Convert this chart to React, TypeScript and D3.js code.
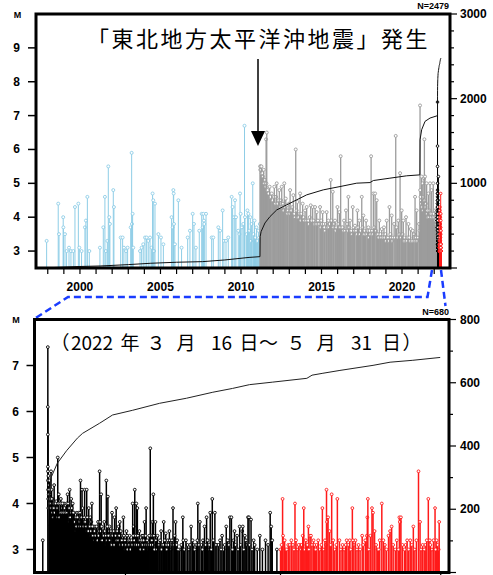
import React from "react";
import * as d3 from "d3";

// ---------- data ----------
// blue: before 2011-03-11 [year, M]
const blueEvents: [number, number][] = [
[1997.93,3.3],[1998.65,4.4],[1998.70,3.5],[1998.96,4.0],[1998.97,3.7],[1999.07,3.5],[1999.17,3.0],[1999.32,3.1],[1999.44,3.0],[1999.59,3.0],[1999.69,4.3],[1999.90,4.4],[1999.96,3.1],[2000.10,3.0],[2000.31,3.7],[2000.37,3.9],[2000.46,4.6],[2000.58,3.0],[2001.24,3.1],[2001.45,3.7],[2001.55,4.6],[2001.61,3.0],[2001.70,3.3],[2001.76,5.5],[2001.82,4.0],[2001.86,3.8],[2002.07,4.8],[2002.11,4.3],[2002.53,3.4],[2002.65,3.4],[2002.73,3.1],[2002.86,3.0],[2002.96,3.1],[2003.15,3.7],[2003.21,5.9],[2003.23,3.8],[2003.27,4.1],[2003.31,3.1],[2003.73,3.0],[2003.83,3.1],[2003.93,3.2],[2004.04,3.4],[2004.14,3.4],[2004.24,3.3],[2004.35,3.4],[2004.45,3.1],[2004.51,4.7],[2004.55,4.5],[2004.60,3.0],[2004.66,4.4],[2004.87,3.5],[2005.03,3.4],[2005.18,3.2],[2005.69,4.0],[2005.76,3.7],[2005.80,4.8],[2005.82,4.7],[2005.84,3.8],[2005.90,3.2],[2006.11,4.5],[2006.31,3.1],[2006.69,3.4],[2006.83,3.6],[2007.00,4.1],[2007.08,3.8],[2007.20,3.1],[2007.41,3.6],[2007.56,4.1],[2007.62,3.7],[2007.66,4.1],[2007.70,3.9],[2007.72,3.8],[2007.83,4.1],[2008.18,3.4],[2008.28,3.4],[2008.59,3.7],[2008.70,3.6],[2008.86,4.2],[2008.94,3.3],[2009.07,3.3],[2009.21,3.4],[2009.42,4.6],[2009.48,4.3],[2009.57,4.0],[2009.63,4.5],[2009.69,4.0],[2009.83,3.6],[2009.90,3.5],[2009.94,4.7],[2009.98,4.1],[2010.06,3.7],[2010.14,3.8],[2010.22,6.7],[2010.25,4.0],[2010.35,3.5],[2010.40,4.2],[2010.46,4.1],[2010.52,3.6],[2010.58,4.0],[2010.62,3.3],[2010.66,3.8],[2010.73,5.0],[2010.78,3.5],[2010.84,3.9],[2010.90,3.4],[2010.96,3.7],[2011.02,3.3],[2011.08,3.6],[2011.13,3.4],[2011.17,3.8]
];

// gray: 2011-03-11 .. 2022-03-15 [year, M]
const grayEvents: [number, number][] = [
[2011.19,5.5],[2011.20,5.4],[2011.22,5.5],[2011.24,5.4],[2011.27,5.5],[2011.29,5.3],[2011.33,5.3],[2011.37,5.2],[2011.41,5.4],[2011.45,5.0],[2011.49,5.1],[2011.53,4.9],[2011.56,6.3],[2011.58,5.0],[2011.60,6.5],[2011.63,4.8],[2011.66,4.8],[2011.72,4.7],[2011.78,4.9],[2011.84,4.6],[2011.91,4.7],[2011.97,4.5],[2012.03,4.6],[2012.07,4.9],[2012.13,4.4],[2012.18,4.6],[2012.22,5.0],[2012.28,4.4],[2012.33,4.5],[2012.38,4.8],[2012.45,4.3],[2012.49,4.5],[2012.53,4.9],[2012.57,4.3],[2012.61,4.4],[2012.65,4.2],[2012.69,5.0],[2012.74,4.3],[2012.78,4.55],[2012.84,4.35],[2012.88,4.1],[2012.92,4.2],[2012.98,4.4],[2013.02,4.1],[2013.05,4.8],[2013.09,4.2],[2013.13,4.2],[2013.19,4.3],[2013.25,4.65],[2013.31,4.1],[2013.36,4.0],[2013.40,6.0],[2013.46,4.2],[2013.50,4.45],[2013.54,4.0],[2013.58,4.0],[2013.63,4.1],[2013.67,4.7],[2013.71,3.9],[2013.75,4.1],[2013.83,4.4],[2013.89,4.0],[2013.93,3.9],[2013.98,4.2],[2014.04,3.9],[2014.08,4.3],[2014.14,3.9],[2014.18,3.9],[2014.22,3.8],[2014.27,4.0],[2014.33,4.35],[2014.39,3.9],[2014.45,4.3],[2014.52,3.9],[2014.56,3.8],[2014.60,4.3],[2014.66,3.8],[2014.70,4.15],[2014.74,3.8],[2014.78,3.9],[2014.85,3.8],[2014.91,4.3],[2014.95,3.7],[2014.99,3.9],[2015.03,3.8],[2015.07,4.15],[2015.14,3.8],[2015.18,3.7],[2015.22,3.6],[2015.28,3.8],[2015.32,4.15],[2015.39,3.7],[2015.43,3.9],[2015.47,3.7],[2015.51,3.8],[2015.57,5.1],[2015.63,3.9],[2015.70,4.75],[2015.74,3.7],[2015.78,3.8],[2015.84,3.9],[2015.88,3.6],[2015.92,3.7],[2015.99,4.3],[2016.05,3.8],[2016.11,4.15],[2016.15,3.7],[2016.19,5.8],[2016.25,3.7],[2016.32,3.7],[2016.36,3.6],[2016.40,3.9],[2016.46,3.6],[2016.52,4.2],[2016.59,3.8],[2016.63,3.6],[2016.67,4.6],[2016.73,3.7],[2016.77,3.9],[2016.81,3.6],[2016.85,3.6],[2016.90,3.5],[2016.94,4.3],[2017.00,3.7],[2017.04,3.6],[2017.08,3.75],[2017.15,3.6],[2017.19,3.5],[2017.23,4.2],[2017.29,3.7],[2017.35,3.9],[2017.39,3.5],[2017.43,3.6],[2017.50,4.6],[2017.56,3.7],[2017.60,4.05],[2017.64,3.5],[2017.68,3.6],[2017.73,3.5],[2017.77,3.9],[2017.83,3.5],[2017.87,3.6],[2017.91,3.7],[2017.95,3.4],[2017.99,3.6],[2018.03,3.5],[2018.08,5.8],[2018.14,3.6],[2018.18,3.5],[2018.22,4.7],[2018.28,3.7],[2018.33,4.7],[2018.39,3.6],[2018.43,4.5],[2018.47,3.5],[2018.51,3.5],[2018.55,3.4],[2018.59,3.9],[2018.66,3.5],[2018.70,3.4],[2018.74,3.65],[2018.80,3.4],[2018.84,3.5],[2018.88,3.7],[2018.92,3.4],[2018.97,3.5],[2019.01,3.3],[2019.05,3.9],[2019.09,3.4],[2019.13,3.4],[2019.18,3.3],[2019.22,4.3],[2019.28,3.5],[2019.32,3.4],[2019.36,4.05],[2019.40,3.3],[2019.44,3.4],[2019.51,3.8],[2019.56,3.4],[2019.61,6.4],[2019.67,3.7],[2019.73,3.4],[2019.77,3.9],[2019.84,3.5],[2019.88,5.3],[2019.94,3.4],[2019.98,4.2],[2020.04,3.5],[2020.08,3.9],[2020.13,3.3],[2020.17,3.4],[2020.21,3.3],[2020.25,4.0],[2020.31,3.3],[2020.36,3.4],[2020.40,3.8],[2020.46,3.4],[2020.50,3.3],[2020.54,3.65],[2020.60,3.3],[2020.66,3.6],[2020.70,3.3],[2020.75,3.5],[2020.81,4.6],[2020.83,3.3],[2020.87,3.4],[2020.91,4.2],[2020.95,3.3],[2020.99,3.4],[2021.06,3.8],[2021.09,3.6],[2021.12,7.3],[2021.13,4.8],[2021.15,4.6],[2021.18,4.5],[2021.20,4.4],[2021.22,5.2],[2021.25,4.3],[2021.29,5.0],[2021.31,4.2],[2021.33,4.6],[2021.37,5.15],[2021.39,6.3],[2021.41,4.5],[2021.43,5.2],[2021.46,4.3],[2021.49,4.4],[2021.53,5.0],[2021.56,4.1],[2021.58,4.2],[2021.61,4.0],[2021.64,4.7],[2021.68,4.0],[2021.71,4.2],[2021.74,5.0],[2021.78,4.1],[2021.81,4.0],[2021.84,4.8],[2021.88,4.1],[2021.91,4.0],[2021.94,5.0],[2021.97,4.1],[2022.01,4.0],[2022.05,4.2],[2022.08,3.9],[2022.11,3.8],[2022.14,4.0],[2022.17,3.9]
];

// recent: days after 2022-03-16 00:00 [day, M]
const recentEvents: [number, number][] = [
[0.0,3.2],[0.98,7.4],[0.98,6.1],[0.99,5.5],[0.99,4.8],[1.0,4.7],[1.0,4.5],[1.02,4.3],[1.05,4.1],[1.08,3.9],[1.1,4.6],[1.2,4.4],[1.3,4.5],[1.4,4.2],[1.5,4.0],[1.6,4.7],[1.7,4.3],[1.8,3.9],[1.9,4.1],[2.0,3.8],[2.1,4.0],[2.2,4.4],[2.4,3.9],[2.6,4.05],[2.7,3.7],[2.9,5.0],[3.1,4.2],[3.3,3.8],[3.5,4.1],[3.7,3.9],[3.9,3.6],[4.1,4.0],[4.3,3.7],[4.5,3.9],[4.8,4.2],[5.0,3.6],[5.2,4.3],[5.4,3.8],[5.5,4.1],[5.7,3.5],[5.8,4.0],[6.0,3.7],[6.1,3.8],[6.3,3.4],[6.6,3.8],[6.8,3.6],[6.9,3.8],[7.0,3.5],[7.3,4.5],[7.6,4.3],[7.8,3.6],[8.1,4.3],[8.3,3.4],[8.5,4.3],[8.7,3.5],[8.9,3.9],[9.0,3.3],[9.2,3.7],[9.4,3.6],[9.5,4.0],[9.8,3.5],[9.9,3.2],[10.1,3.5],[10.3,3.4],[10.5,3.3],[10.7,3.6],[10.9,3.4],[11.0,4.7],[11.3,4.2],[11.6,3.3],[11.7,3.4],[11.9,3.6],[12.1,3.1],[12.3,4.5],[12.6,4.15],[12.8,3.4],[12.9,3.5],[13.1,3.3],[13.4,3.8],[13.6,3.2],[13.9,3.7],[14.0,3.4],[14.2,3.9],[14.5,3.1],[14.7,3.5],[14.9,3.6],[15.2,3.3],[15.4,3.2],[15.6,3.7],[15.8,3.0],[16.0,3.2],[16.2,3.4],[16.5,3.1],[16.8,3.3],[17.1,3.1],[17.4,4.0],[17.6,3.5],[17.8,4.3],[18.1,4.0],[18.3,3.9],[18.5,3.2],[18.7,3.4],[19.0,3.1],[19.2,3.3],[19.4,3.3],[19.7,3.6],[20.0,3.9],[20.3,3.0],[20.8,5.2],[21.0,3.3],[21.2,3.6],[21.4,4.2],[21.8,3.6],[22.0,3.2],[22.3,3.1],[22.6,3.0],[22.9,3.4],[23.1,3.1],[23.4,3.6],[23.8,3.35],[24.2,3.2],[24.5,3.4],[24.8,3.0],[25.2,3.9],[25.7,3.6],[26.0,3.2],[26.5,3.0],[27.1,3.7],[27.2,3.2],[28.0,3.1],[28.7,3.5],[29.2,3.1],[29.7,3.1],[30.0,4.0],[30.4,3.6],[30.7,3.1],[31.0,3.2],[31.3,3.5],[31.7,3.7],[32.0,3.0],[32.4,3.8],[32.8,4.1],[33.3,3.8],[33.7,3.1],[34.0,3.1],[34.7,3.3],[35.0,3.0],[35.5,3.5],[36.2,3.7],[36.5,3.7],[36.9,3.2],[37.1,3.4],[37.6,3.3],[37.8,3.0],[38.1,3.5],[38.6,3.4],[38.7,3.5],[39.1,3.3],[39.4,3.1],[39.7,3.7],[39.9,3.7],[40.3,3.65],[40.8,3.2],[41.5,3.0],[42.0,3.3],[43.1,3.2],[44.0,3.8],[44.2,3.5],[44.4,3.2],[45.3,3.0],
[1.15,4.2],[1.25,4.3],[1.35,4.0],[1.45,4.1],[1.55,3.9],[1.65,4.0],[1.75,4.1],[1.85,3.8],[1.95,3.9],[2.05,3.7],[2.15,3.9],[2.3,3.8],[2.5,4.0],[2.8,3.9],[3.0,4.0],[3.2,3.7],[3.4,4.0],[3.6,3.8],[3.8,4.0],[4.0,3.8],[4.2,3.9],[4.4,3.8],[4.6,4.0],[4.7,3.8],[4.9,4.0],[5.1,3.9],[5.3,3.7],[5.6,3.9],[5.9,3.8],[6.2,3.6],[6.4,3.7],[6.5,3.5],[6.7,3.7],[7.1,3.6],[7.2,3.8],[7.4,3.5],[7.5,3.7],[7.7,3.9],[7.9,3.5],[8.0,3.7],[8.2,3.6],[8.4,3.5],[8.6,3.7],[8.8,3.4],[9.1,3.5],[9.3,3.4],[9.6,3.5],[9.7,3.3],[10.0,3.4],[10.2,3.3],[10.4,3.5],[10.6,3.2],[10.8,3.3],[11.1,3.6],[11.2,3.4],[11.4,3.5],[11.5,3.2],[11.8,3.3],[12.0,3.4],[12.2,3.3],[12.4,3.2],[12.5,3.5],[12.7,3.3],[13.0,3.2],[13.2,3.4],[13.3,3.1],[13.5,3.3],[13.7,3.4],[13.8,3.1],[14.1,3.3],[14.3,3.2],[14.4,3.4],[14.6,3.2],[14.8,3.3],[15.0,3.1],[15.1,3.4],[15.3,3.2],[15.5,3.1],[15.7,3.3],[15.9,3.2],[16.1,3.1],[16.3,3.3],[16.4,3.0],[16.6,3.2],[16.7,3.1],[16.9,3.2],[17.0,3.0],[17.2,3.2],[17.3,3.1],[17.5,3.3],[17.7,3.2],[17.9,3.1],[18.0,3.3],[18.2,3.1],[18.4,3.3],[18.6,3.1],[18.8,3.2],[18.9,3.0],[19.1,3.2],[19.3,3.1],[19.5,3.2],[19.6,3.0],[19.8,3.1],[19.9,3.3],[20.1,3.1],[20.2,3.2],[20.5,3.1],[20.6,3.3],[20.9,3.1],[21.1,3.2],[21.3,3.1],[21.5,3.3],[21.6,3.0],[21.9,3.2],[22.1,3.0],[22.2,3.3],[22.5,3.1],[22.7,3.2],[23.0,3.0],[23.3,3.1],[23.6,3.2],[23.9,3.1],[24.0,3.0],[24.3,3.1],[24.6,3.2],[24.9,3.1],[25.0,3.2],[25.4,3.1],[25.5,3.3],[25.9,3.1],[26.2,3.0],[26.8,3.1],[27.4,3.0],[27.7,3.2],[28.3,3.0],[28.5,3.1],[29.0,3.2],[29.4,3.0],[29.9,3.2],[30.2,3.1],[30.9,3.0],[31.5,3.1],[31.9,3.2],[32.2,3.1],[32.6,3.0],[33.0,3.2],[33.5,3.1],[34.3,3.2],[34.5,3.0],[35.2,3.1],[35.8,3.2],[36.0,3.1],[36.7,3.0],[37.3,3.1],[38.3,3.1],[38.9,3.0],[39.3,3.2],[40.0,3.1],[40.5,3.0],[41.0,3.1],[42.5,3.0],[43.6,3.1],
[46.0,3.0],[46.4,4.1],[46.5,3.3],[47.0,3.0],[47.5,3.1],[48.1,3.2],[48.4,3.1],[48.8,4.0],[49.2,3.0],[49.8,3.1],[50.0,3.0],[50.1,3.1],[50.3,3.3],[50.5,3.9],[51.0,3.1],[51.4,3.5],[51.7,3.3],[51.9,3.3],[52.1,3.1],[52.4,3.2],[52.6,3.1],[53.0,3.1],[53.6,3.0],[54.1,3.9],[54.8,3.1],[54.9,4.3],[55.0,3.6],[55.2,3.7],[55.5,3.4],[55.9,4.2],[56.5,3.0],[57.0,4.1],[57.4,3.2],[58.3,3.0],[58.8,3.2],[59.1,3.1],[59.4,3.2],[59.9,3.9],[60.2,3.1],[60.5,3.2],[60.8,3.0],[61.1,3.1],[61.8,3.3],[62.7,3.3],[62.8,3.7],[62.9,4.1],[63.4,3.3],[63.7,3.9],[63.9,3.8],[64.2,3.4],[64.8,3.0],[65.2,3.2],[65.6,4.0],[66.2,3.1],[66.9,3.3],[67.2,3.4],[67.5,3.5],[68.2,3.0],[69.0,3.7],[69.1,3.6],[69.3,3.7],[70.2,3.1],[71.1,3.2],[71.7,3.5],[72.0,3.0],[72.7,4.7],[73.0,3.6],[73.2,3.0],[74.0,3.1],[74.6,4.1],[74.9,3.2],[75.3,3.0],[75.9,3.9],[76.2,3.2],[76.6,3.0],[76.7,3.6],
[46.2,3.1],[46.8,3.2],[47.2,3.0],[47.8,3.1],[48.6,3.0],[49.0,3.2],[49.5,3.1],[50.7,3.0],[50.9,3.2],[51.2,3.1],[51.5,3.0],[52.8,3.0],[53.3,3.2],[53.9,3.1],[54.4,3.0],[54.6,3.2],[55.7,3.1],[56.2,3.2],[56.8,3.1],[57.7,3.0],[58.0,3.1],[58.6,3.1],[59.6,3.0],[60.0,3.2],[61.4,3.0],[62.0,3.1],[62.4,3.2],[63.1,3.0],[64.5,3.1],[65.0,3.0],[65.9,3.2],[66.5,3.0],[67.8,3.1],[68.5,3.2],[68.8,3.0],[69.6,3.1],[70.0,3.0],[70.5,3.2],[70.8,3.0],[71.4,3.1],[72.3,3.2],[73.5,3.1],[73.8,3.0],[74.3,3.2],[75.0,3.1],[75.6,3.2],[76.0,3.0],[76.4,3.1]
];

// cumulative counts
const topCumulative: [number, number][] = [
[1997.27,0],[1998.0,3],[1999.0,10],[2000.0,18],[2001.3,24],[2003.0,40],[2004.4,56],[2006.0,68],[2007.6,75],[2009.0,95],[2010.5,125],[2011.18,134],[2011.19,370],[2011.25,430],[2011.49,532],[2011.8,607],[2012.22,686],[2012.63,726],[2013.25,785],[2014.08,864],[2015.11,923],[2016.15,962],[2017.19,1002],[2018.01,1009],[2018.22,1033],[2019.25,1061],[2020.29,1089],[2021.11,1100],[2021.12,1515],[2021.22,1633],[2021.43,1732],[2021.74,1771],[2022.2,1799]
];
const recentCumulative: [number, number][] = [
[0.97,1],[1.0,150],[1.2,230],[1.6,300],[2.8,345],[4.6,385],[6.7,425],[7.7,440],[11.0,472],[13.5,498],[17.4,513],[22.6,535],[27.8,551],[32.9,570],[36.7,582],[40.0,594],[44.5,602],[51.1,614],[52.1,624],[54.2,630],[57.5,639],[63.9,655],[67.2,665],[71.6,671],[76.9,680]
];

const yearLabels = [2000, 2005, 2010, 2015, 2020];
const topMTicks = [3, 4, 5, 6, 7, 8, 9];
const topCountLabels = [1000, 2000, 3000];
const bottomMTicks = [3, 4, 5, 6, 7];
const bottomCountLabels = [200, 400, 600, 800];
const monthTickDays = [16, 46, 77];
const RED_START_DAY = 46;
const MAR16_DAY_OF_YEAR = 74;
const COUNT_BEFORE = 1799;
const TOTAL_N = "N=2479";
const RECENT_N = "N=680";
const title1 = "「東北地方太平洋沖地震」発生";
const title2Tokens: [string, number][] = [
  ["（", 60], ["2022", 92], ["年", 130], ["３", 156], ["月", 186], ["16", 221.5], ["日", 249],
  ["～", 268.5], ["５", 296], ["月", 326], ["31", 361.5], ["日", 391.5], ["）", 412],
];

// ---------- layout ----------
const T = { x0: 36, x1: 450, y0: 14, y1: 268 };
const B = { x0: 34.5, x1: 449, y0: 319.5, y1: 572.5 };
const BLUE = "#8ecde6";
const GRAY = "#9c9c9c";
const RED = "#ff1a1a";
const DASH = "#1a3cff";
const LBL = "'Liberation Sans', Arial, sans-serif";

const toYear = (d: number) => 2022 + (MAR16_DAY_OF_YEAR + d) / 365;

export default function App() {
  const xT = d3.scaleLinear().domain([1997.27, 2022.98]).range([T.x0, T.x1]);
  const yTM = d3.scaleLinear().domain([2.5, 10]).range([T.y1, T.y0]);
  const yTC = d3.scaleLinear().domain([0, 3000]).range([T.y1, T.y0]);
  const xB = d3.scaleLinear().domain([-1.6, 78.6]).range([B.x0, B.x1]);
  const yBM = d3.scaleLinear().domain([2.5, 8]).range([B.y1, B.y0]);
  const yBC = d3.scaleLinear().domain([0, 800]).range([B.y1, B.y0]);

  const topLine = d3.line<[number, number]>().x(d => xT(d[0])).y(d => yTC(d[1]));
  const topAll: [number, number][] = [
    ...topCumulative,
    ...recentCumulative.map(([d, c]) => [toYear(d), COUNT_BEFORE + c] as [number, number]),
  ];
  const botLine = d3.line<[number, number]>().x(d => xB(d[0])).y(d => yBC(d[1]));

  const stem = (x: number, yb: number, yt: number, color: string, w: number, key: string, r = 1.5) => (
    <g key={key}>
      <line x1={x} x2={x} y1={yb} y2={yt} stroke={color} strokeWidth={w} />
      <circle cx={x} cy={yt} r={r} fill="#fff" stroke={color} strokeWidth={0.9} />
    </g>
  );

  const black = recentEvents.filter(e => e[0] < RED_START_DAY);
  const red = recentEvents.filter(e => e[0] >= RED_START_DAY);

  const topYearTicks = d3.range(1998, 2023);
  const topCountMinor = d3.range(0, 3001, 200);
  const botCountMinor = d3.range(0, 801, 100);

  return (
    <svg width={493} height={575} style={{ position: "absolute", left: 0, top: 0, background: "#fff" }}>
      {/* ---------- top chart ---------- */}
      <g>
        {blueEvents.map((e, i) => stem(xT(e[0]), T.y1, yTM(e[1]), BLUE, 1, "b" + i))}
        {grayEvents.map((e, i) => stem(xT(e[0]), T.y1, yTM(e[1]), GRAY, 1.3, "g" + i))}
        {black.map((e, i) => stem(xT(toYear(e[0])), T.y1, yTM(e[1]), "#000", 1, "k" + i, 1.3))}
        {red.map((e, i) => stem(xT(toYear(e[0])), T.y1, yTM(e[1]), RED, 1, "r" + i, 1.3))}
        <path d={topLine(topAll) || ""} fill="none" stroke="#111" strokeWidth={1} />
        <rect x={T.x0} y={T.y0} width={T.x1 - T.x0} height={T.y1 - T.y0} fill="none" stroke="#000" strokeWidth={3} />
        {topMTicks.map(m => (
          <g key={"tm" + m}>
            <line x1={T.x0 - 8} x2={T.x0} y1={yTM(m)} y2={yTM(m)} stroke="#000" strokeWidth={1.5} />
            <text x={20} y={yTM(m) + 4} textAnchor="end" fontFamily={LBL} fontWeight="bold" fontSize={12}>{m}</text>
          </g>
        ))}
        {topCountMinor.map(c => (
          <line key={"tc" + c} x1={T.x1} x2={T.x1 + (c % 1000 === 0 ? 7 : 4)} y1={yTC(c)} y2={yTC(c)} stroke="#000" strokeWidth={1.2} />
        ))}
        {topCountLabels.map(c => (
          <text key={"tcl" + c} x={460} y={yTC(c) + 4} fontFamily={LBL} fontWeight="bold" fontSize={12}>{c}</text>
        ))}
        {topYearTicks.map(y => (
          <line key={"ty" + y} x1={xT(y)} x2={xT(y)} y1={T.y1} y2={T.y1 + 6} stroke="#000" strokeWidth={1.2} />
        ))}
        {yearLabels.map(y => (
          <text key={"tyl" + y} x={xT(y)} y={291} textAnchor="middle" fontFamily={LBL} fontWeight="bold" fontSize={12}>{y}</text>
        ))}
        <text x={17.5} y={18} textAnchor="middle" fontFamily={LBL} fontWeight="bold" fontSize={9}>M</text>
        <text x={449} y={9} textAnchor="end" fontFamily={LBL} fontWeight="bold" fontSize={9}>{TOTAL_N}</text>
        <text x={87} y={46.5} fontFamily="'Noto Sans CJK JP', sans-serif" fontSize={22} style={{ letterSpacing: "2.5px" }}>{title1}</text>
        <line x1={258} x2={258} y1={59} y2={132} stroke="#000" strokeWidth={1.5} />
        <path d="M251,131 L265,131 L258,146 Z" fill="#000" />
      </g>

      {/* ---------- connectors ---------- */}
      <path d="M432,270 L427.5,297 L68,297 L35,318.5" fill="none" stroke={DASH} strokeWidth={2.5} strokeDasharray="7 4" />
      <path d="M441,270 L445.5,306" fill="none" stroke={DASH} strokeWidth={2.5} strokeDasharray="7 4" />

      {/* ---------- bottom chart ---------- */}
      <g>
        {black.map((e, i) => stem(xB(e[0]), B.y1, yBM(e[1]), "#000", 1.5, "bk" + i, 1.4))}
        {red.map((e, i) => stem(xB(e[0]), B.y1, yBM(e[1]), RED, 1.5, "br" + i, 1.4))}
        <path d={botLine(recentCumulative) || ""} fill="none" stroke="#222" strokeWidth={1} />
        <rect x={B.x0} y={B.y0} width={B.x1 - B.x0} height={B.y1 - B.y0} fill="none" stroke="#000" strokeWidth={3} />
        {bottomMTicks.map(m => (
          <g key={"bm" + m}>
            <line x1={B.x0 - 8} x2={B.x0} y1={yBM(m)} y2={yBM(m)} stroke="#000" strokeWidth={1.5} />
            <text x={19} y={yBM(m) + 4} textAnchor="end" fontFamily={LBL} fontWeight="bold" fontSize={12}>{m}</text>
          </g>
        ))}
        {botCountMinor.map(c => (
          <line key={"bc" + c} x1={B.x1} x2={B.x1 + (c % 200 === 0 ? 7 : 4)} y1={yBC(c)} y2={yBC(c)} stroke="#000" strokeWidth={1.2} />
        ))}
        {bottomCountLabels.map(c => (
          <text key={"bcl" + c} x={460} y={yBC(c) + 4} fontFamily={LBL} fontWeight="bold" fontSize={12}>{c}</text>
        ))}
        {monthTickDays.map(d => (
          <line key={"md" + d} x1={xB(d)} x2={xB(d)} y1={B.y1} y2={B.y1 + 5} stroke="#000" strokeWidth={1.2} />
        ))}
        <text x={16} y={323} textAnchor="middle" fontFamily={LBL} fontWeight="bold" fontSize={9}>M</text>
        <text x={449} y={315} textAnchor="end" fontFamily={LBL} fontWeight="bold" fontSize={9}>{RECENT_N}</text>
        <text y={350} fontFamily="'Noto Sans CJK JP', sans-serif" fontSize={19} textAnchor="middle">
          {title2Tokens.map(([t, x], i) => (
            <tspan key={"t" + i} x={x}>{t}</tspan>
          ))}
        </text>
      </g>
    </svg>
  );
}
